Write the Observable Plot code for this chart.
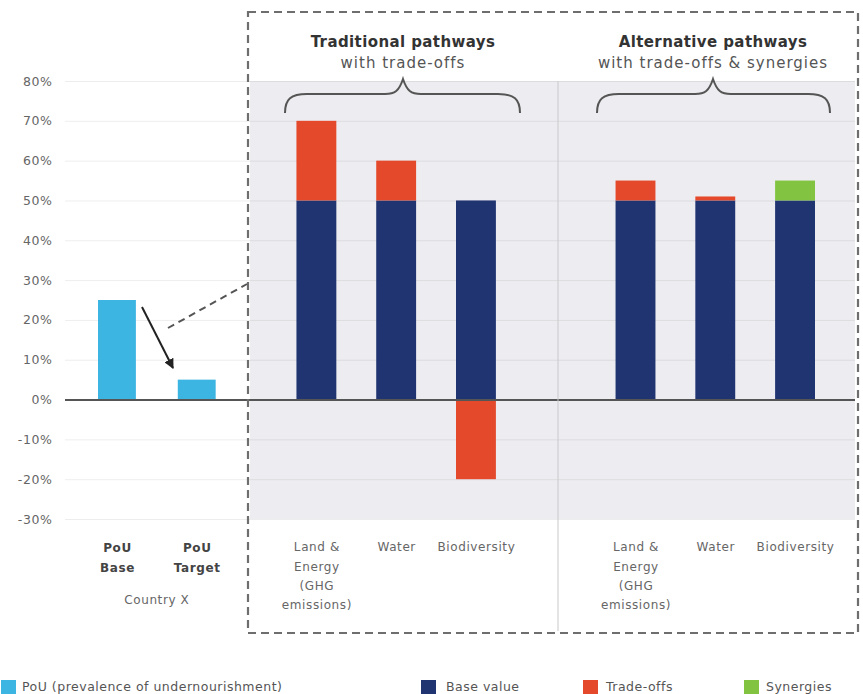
<!DOCTYPE html>
<html><head><meta charset="utf-8">
<script src="https://cdn.jsdelivr.net/npm/d3@7"></script>
<script src="https://cdn.jsdelivr.net/npm/@observablehq/plot@0.6"></script>
<style>
body{margin:0;background:#fff;font-family:"DejaVu Sans",sans-serif}
#chart svg{display:block}
#chart svg text{letter-spacing:0.6px}
</style>
</head><body><div id="chart"></div>
<script>
// ---- data ----
const pouCategories = ["PoU Base", "PoU Target"];
const pouLabels = ["PoU\nBase", "PoU\nTarget"];
const pouValues = [25, 5];
const groupLabel = "Country X";

const pathwayCategories = ["T-Land", "T-Water", "T-Bio", "A-Land", "A-Water", "A-Bio"];
const pathwayLabels = ["Land &\nEnergy\n(GHG\nemissions)", "Water", "Biodiversity",
                       "Land &\nEnergy\n(GHG\nemissions)", "Water", "Biodiversity"];
const baseValues = [50, 50, 50, 50, 50, 50];
const tradeoffValues = [20, 10, -20, 5, 1, 0];
const synergyValues = [0, 0, 0, 0, 0, 5];

const seriesNames = ["PoU (prevalence of undernourishment)", "Base value", "Trade-offs", "Synergies"];
const seriesColors = ["#3db5e2", "#1f3471", "#e4492b", "#82c341"];
const yTicks = [-30, -20, -10, 0, 10, 20, 30, 40, 50, 60, 70, 80];

const titles = [["Traditional pathways", "with trade-offs"], ["Alternative pathways", "with trade-offs & synergies"]];

// slot layout of the band scale (spacers have no bars)
const slots = ["PoU Base", "sp0", "PoU Target", "sp1", "sp2", "T-Land", "sp3", "T-Water", "sp4", "T-Bio",
               "sp5", "sp6", "sp7", "A-Land", "sp8", "A-Water", "sp9", "A-Bio"];

// ---- tables ----
const pouRows = pouCategories.map((c, i) => ({cat: c, value: pouValues[i], series: seriesNames[0]}));
const stackRows = [];
pathwayCategories.forEach((c, i) => {
  stackRows.push({cat: c, value: baseValues[i], series: seriesNames[1]});
  stackRows.push({cat: c, value: tradeoffValues[i], series: seriesNames[2]});
  stackRows.push({cat: c, value: synergyValues[i], series: seriesNames[3]});
});
const labelOf = new Map([...pouCategories.map((c, i) => [c, pouLabels[i]]),
                         ...pathwayCategories.map((c, i) => [c, pathwayLabels[i]])]);

const plot = Plot.plot({
  width: 863,
  height: 694,
  marginTop: 81,
  marginBottom: 175,
  marginLeft: 65,
  marginRight: 8,
  style: {fontFamily: "'DejaVu Sans', sans-serif", color: "#555", background: "transparent"},
  x: {type: "band", domain: slots, range: [97, 815], round: false, paddingInner: 0, paddingOuter: 0, axis: null},
  y: {domain: [-30, 80], axis: null},
  color: {domain: seriesNames, range: seriesColors},
  marks: [
    Plot.gridY(yTicks, {stroke: "#000", strokeOpacity: 0.07, strokeWidth: 1}),
    Plot.axisY(yTicks, {tickSize: 0, tickPadding: 13, tickFormat: d => d + "%", fontSize: 12.5, fill: "#666", anchor: "left", label: null}),
    Plot.barY(pouRows, {x: "cat", y: "value", fill: "series", insetLeft: 1, insetRight: 1}),
    Plot.barY(stackRows, Plot.stackY({x: "cat", y: "value", fill: "series", insetLeft: 0, insetRight: 0})),
    Plot.ruleY([0], {stroke: "#555", strokeWidth: 2}),
    Plot.axisX(pouCategories, {tickSize: 0, tickPadding: 18, tickFormat: d => labelOf.get(d), fontWeight: "bold", fontSize: 12, fill: "#444", lineHeight: 1.66, label: null}),
    Plot.axisX(pathwayCategories, {tickSize: 0, tickPadding: 18, tickFormat: d => labelOf.get(d), fontSize: 12, fill: "#666", lineHeight: 1.61, label: null})
  ]
});

document.getElementById("chart").appendChild(plot);

// ---- annotations ----
const svg = d3.select(plot);
const xs = plot.scale("x"), ys = plot.scale("y");
const bw = xs.bandwidth;
const xc = c => xs.apply(c) + bw / 2;
const y0 = ys.apply(80), y1 = ys.apply(-30);

// gray panel behind everything
svg.insert("rect", "g").attr("x", 250).attr("y", y0).attr("width", 855 - 250).attr("height", y1 - y0).attr("fill", "#ededf1");

const ann = svg.append("g");
// divider between pathway groups
ann.append("line").attr("x1", 558).attr("x2", 558).attr("y1", y0).attr("y2", 631).attr("stroke", "#c9c9cc").attr("stroke-width", 1);
// dashed box
ann.append("rect").attr("x", 248).attr("y", 12).attr("width", 610).attr("height", 621)
  .attr("fill", "none").attr("stroke", "#6e6e6e").attr("stroke-width", 2.2).attr("stroke-dasharray", "8,5");

// braces + titles
const brace = (a, cx, b) => {
  const yb = 113, yh = 94, yp = 79;
  return `M${a},${yb} C${a},${yh + 5} ${a + 6},${yh} ${a + 22},${yh} L${cx - 18},${yh} C${cx - 8},${yh} ${cx - 4},${yh - 3} ${cx},${yp} C${cx + 4},${yh - 3} ${cx + 8},${yh} ${cx + 18},${yh} L${b - 22},${yh} C${b - 6},${yh} ${b},${yh + 5} ${b},${yb}`;
};
[[285, 403, 520], [597, 713, 830]].forEach(([a, cx, b], i) => {
  ann.append("path").attr("d", brace(a, cx, b)).attr("fill", "none").attr("stroke", "#555").attr("stroke-width", 2);
  ann.append("text").attr("x", cx).attr("y", 47).attr("text-anchor", "middle").attr("font-size", 15).attr("font-weight", "bold").attr("fill", "#333").style("letter-spacing", "0.4px").text(titles[i][0]);
  ann.append("text").attr("x", cx).attr("y", 68).attr("text-anchor", "middle").attr("font-size", 15).attr("fill", "#555").style("letter-spacing", "1px").text(titles[i][1]);
});

// arrow from base to target
svg.append("defs").append("marker").attr("id", "ah").attr("viewBox", "0 0 10 10").attr("refX", 9).attr("refY", 5)
  .attr("markerWidth", 5).attr("markerHeight", 5).attr("orient", "auto")
  .append("path").attr("d", "M0,0 L10,5 L0,10 Z").attr("fill", "#222");
ann.append("line").attr("x1", 142).attr("y1", 307).attr("x2", 173).attr("y2", 368)
  .attr("stroke", "#222").attr("stroke-width", 2).attr("marker-end", "url(#ah)");
// dashed connector
ann.append("line").attr("x1", 168).attr("y1", 328).attr("x2", 247).attr("y2", 284)
  .attr("stroke", "#555").attr("stroke-width", 2).attr("stroke-dasharray", "7,5");

// group label
ann.append("text").attr("x", xc("sp0")).attr("y", 604).attr("text-anchor", "middle").attr("font-size", 12).attr("fill", "#666").text(groupLabel);

// legend
const legendPos = [[1, 22], [421, 446], [583, 606], [744, 766]];
seriesNames.forEach((s, i) => {
  const [sx, tx] = legendPos[i];
  ann.append("rect").attr("x", sx).attr("y", 680).attr("width", 15).attr("height", 14).attr("fill", seriesColors[i]);
  ann.append("text").attr("x", tx).attr("y", 691).attr("text-anchor", "start").attr("font-size", 12.5).attr("fill", "#555").style("letter-spacing", "0.5px").text(s);
});
</script>
</body></html>
